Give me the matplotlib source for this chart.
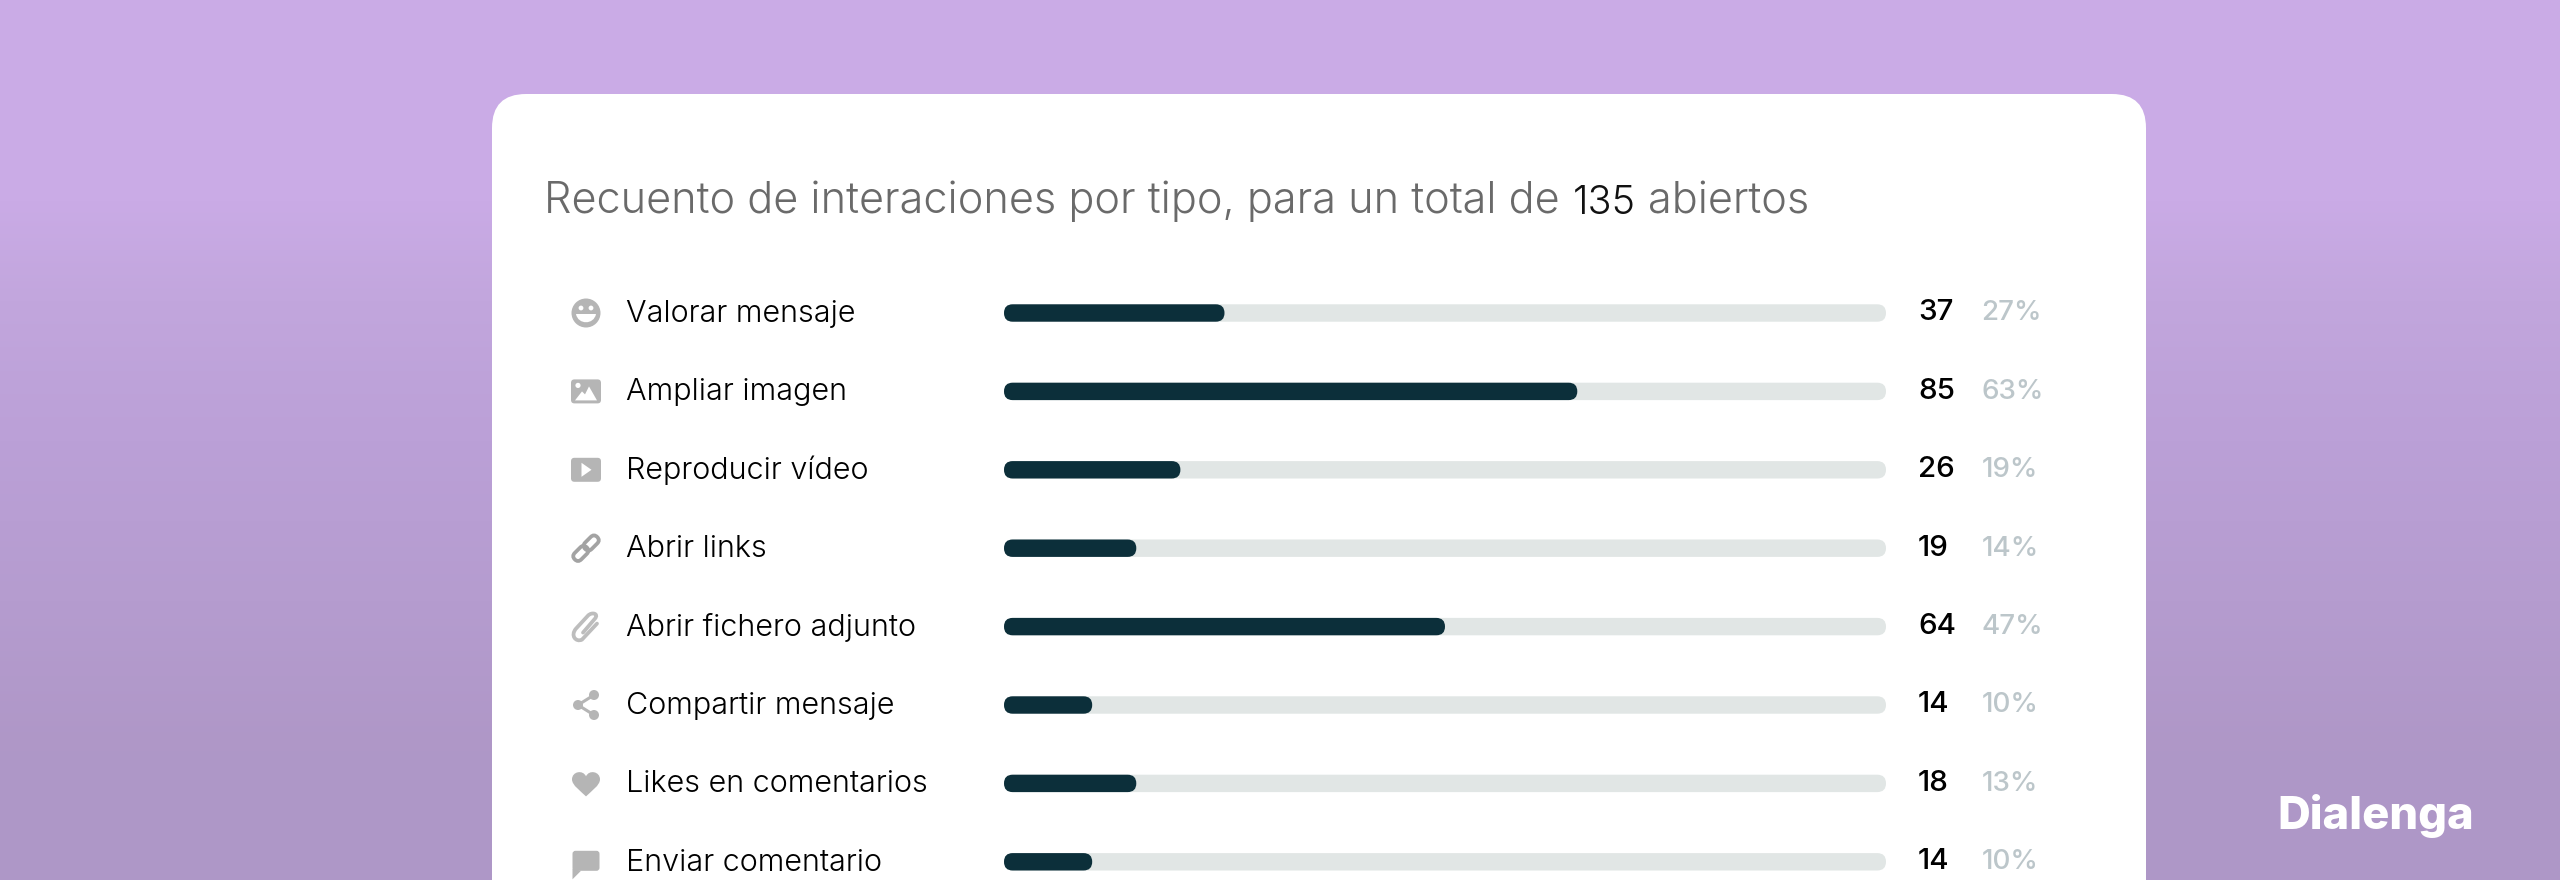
import numpy as np
import matplotlib
matplotlib.use("Agg")
import matplotlib.pyplot as plt
from matplotlib.patches import FancyBboxPatch, Circle, Polygon, PathPatch
from matplotlib.path import Path
from matplotlib.transforms import Affine2D

categories = ["Valorar mensaje", "Ampliar imagen", "Reproducir vídeo", "Abrir links",
              "Abrir fichero adjunto", "Compartir mensaje", "Likes en comentarios", "Enviar comentario"]
counts = [37, 85, 26, 19, 64, 14, 18, 14]
percents = [27, 63, 19, 14, 47, 10, 13, 10]
bar_fill = [25, 65, 20, 15, 50, 10, 15, 10]
title_parts = ["Recuento de interaciones por tipo, para un total de", "135", "abiertos"]
brand = "Dialenga"

W, H = 2560, 880
FONT = "Inter"
BG_STOPS_Y = [0, 200, 300, 440, 600, 750, 880]
BG_STOPS_C = ["#caabe6", "#caabe6", "#c2a6dd", "#bba0d7", "#b59ccf", "#af97c7", "#ae98c8"]
GRAY = "#b5b5b5"

fig = plt.figure(figsize=(W / 100, H / 100), dpi=100)
bg = fig.add_axes([0, 0, 1, 1])
bg.axis("off")

yy = np.arange(H)
stops = np.array([matplotlib.colors.to_rgb(c) for c in BG_STOPS_C])
grad = np.stack([np.interp(yy, BG_STOPS_Y, stops[:, i]) for i in range(3)], axis=1)[:, None, :]
bg.imshow(grad, extent=[0, W, H, 0], aspect="auto", zorder=0)
bg.set_xlim(0, W)
bg.set_ylim(H, 0)
bg.add_patch(FancyBboxPatch((492, 94), 2146 - 492, 900, boxstyle="round,pad=0,rounding_size=34",
                            fc="white", ec="none", zorder=1))


def fit_text(s, x, y, width, **kw):
    t = bg.text(x, y, s, ha="left", va="baseline", zorder=3, family=FONT, **kw)
    r = fig.canvas.get_renderer()
    w = t.get_window_extent(r).width
    t.set_fontsize(t.get_fontsize() * width / w)
    return t


# chart axes: the track spans 0..100 on x
X0, X1 = 1004, 1886
Y_FIRST, STEP = 313, 78.4
ax = fig.add_axes([X0 / W, 0, (X1 - X0) / W, 1])
ax.set_xlim(0, 100)
ypos = np.arange(len(categories))
ax.set_ylim((H - Y_FIRST) / STEP, -Y_FIRST / STEP)
ax.axis("off")
ax.patch.set_alpha(0)

bar_h = 17.4 / STEP
px_x = (X1 - X0) / 100
rad = 8.7 / px_x
aspect = (bar_h / 2) / rad


def rbar(y, v, color, z):
    ax.add_patch(FancyBboxPatch((0, y - bar_h / 2), v, bar_h,
                                boxstyle=f"round,pad=0,rounding_size={rad}",
                                mutation_aspect=aspect, fc=color, ec="none", zorder=z))


for i, (cat, c, p, f) in enumerate(zip(categories, counts, percents, bar_fill)):
    rbar(ypos[i], 100, "#e1e6e5", 2)
    rbar(ypos[i], f, "#0c2f3a", 3)
    cy = Y_FIRST + i * STEP
    bg.text(626, cy + 9, cat, fontsize=22, family=FONT, weight=300, color="#000000",
            ha="left", va="baseline", zorder=3)
    bg.text(1918, cy + 7.5, str(c), fontsize=21.3, family=FONT, weight=500, color="#000000",
            ha="left", va="baseline", zorder=3)
    bg.text(1981.5, cy + 7.5, f"{p}%", fontsize=20, family=FONT, weight=500, color="#bcc6ca",
            ha="left", va="baseline", zorder=3)

# title
fit_text(title_parts[0], 544, 213.5, 1017, color="#6a6a6a", weight=300, fontsize=28)
fit_text(title_parts[1], 1573, 213.5, 63, color="#111111", weight=300, fontsize=28)
fit_text(title_parts[2], 1648, 213.5, 161, color="#6a6a6a", weight=300, fontsize=28)
fit_text(brand, 2277, 829, 197, color="white", weight=800, fontsize=30)

# icons
CX = 586


def icon_y(i):
    return Y_FIRST + i * STEP


# smile
y = icon_y(0)
bg.add_patch(Circle((CX, y), 14.5, fc=GRAY, ec="none", zorder=3))
bg.add_patch(Circle((CX - 5, y - 5), 2.4, fc="white", ec="none", zorder=4))
bg.add_patch(Circle((CX + 5, y - 5), 2.4, fc="white", ec="none", zorder=4))
bg.add_patch(PathPatch(Path([(CX - 10, y + 1), (CX - 8, y + 12), (CX + 8, y + 12), (CX + 10, y + 1), (CX - 10, y + 1)],
                            [1, 4, 4, 4, 79]), fc="white", ec="none", zorder=4))
# image
y = icon_y(1)
bg.add_patch(FancyBboxPatch((CX - 15, y - 12), 30, 24, boxstyle="round,pad=0,rounding_size=3.5", fc=GRAY, ec="none", zorder=3))
bg.add_patch(Circle((CX - 8, y - 6), 2.6, fc="white", ec="none", zorder=4))
bg.add_patch(Polygon([(CX - 11, y + 9), (CX - 4, y), (CX - 1, y + 3), (CX + 3, y - 5), (CX + 11, y + 9)], fc="white", ec="none", zorder=4))
# play
y = icon_y(2)
bg.add_patch(FancyBboxPatch((CX - 15, y - 12), 30, 24, boxstyle="round,pad=0,rounding_size=3.5", fc=GRAY, ec="none", zorder=3))
bg.add_patch(Polygon([(CX - 4.5, y - 7), (CX + 5.5, y), (CX - 4.5, y + 7)], fc="white", ec="none", zorder=4))
# link
y = icon_y(3)
for dx, dy in [(-5.2, 5.2), (5.2, -5.2)]:
    t = Affine2D().rotate_deg(-45).translate(CX + dx, y + dy) + bg.transData
    bg.add_patch(FancyBboxPatch((-8.5, -4.6), 17, 9.2, boxstyle="round,pad=0,rounding_size=4.6", fc="none",
                                ec="#a3a3a3", lw=2.7, transform=t, zorder=3))
# clip
y = icon_y(4)
bg.add_patch(PathPatch(Path([(CX - 3, y + 6), (CX + 9, y - 8), (CX + 13, y - 13), (CX + 6, y - 15), (CX + 2, y - 11),
                             (CX - 10, y + 2), (CX - 16, y + 9), (CX - 10, y + 16), (CX - 4, y + 13), (CX + 11, y - 3)],
                            [1, 2, 4, 4, 2, 2, 4, 4, 4, 2]), fc="none", ec="#bdbdbd", lw=2.7, zorder=3, capstyle="round"))
# share
y = icon_y(5)
pts = [(CX + 8, y - 10), (CX - 8, y), (CX + 8, y + 10)]
bg.plot([p[0] for p in pts], [p[1] for p in pts], color=GRAY, lw=2.2, zorder=3)
for p in pts:
    bg.add_patch(Circle(p, 5, fc=GRAY, ec="none", zorder=3))
# heart
y = icon_y(6)
bg.add_patch(PathPatch(Path([(CX, y + 13), (CX - 5, y + 8), (CX - 14, y + 2), (CX - 14, y - 4), (CX - 14, y - 12), (CX - 3, y - 14), (CX, y - 7),
                             (CX + 3, y - 14), (CX + 14, y - 12), (CX + 14, y - 4), (CX + 14, y + 2), (CX + 5, y + 8), (CX, y + 13)],
                            [1, 4, 4, 4, 4, 4, 4, 4, 4, 4, 4, 4, 4]), fc=GRAY, ec="none", zorder=3))
# bubble
y = icon_y(7)
bg.add_patch(FancyBboxPatch((CX - 13.5, y - 11), 27, 20, boxstyle="round,pad=0,rounding_size=3", fc=GRAY, ec="none", zorder=3))
bg.add_patch(Polygon([(CX - 13.5, y + 7), (CX - 13.5, y + 17.5), (CX - 5, y + 9)], fc=GRAY, ec="none", zorder=3))

ax.set_zorder(bg.get_zorder() + 1)
fig.savefig("out.png", dpi=100)
